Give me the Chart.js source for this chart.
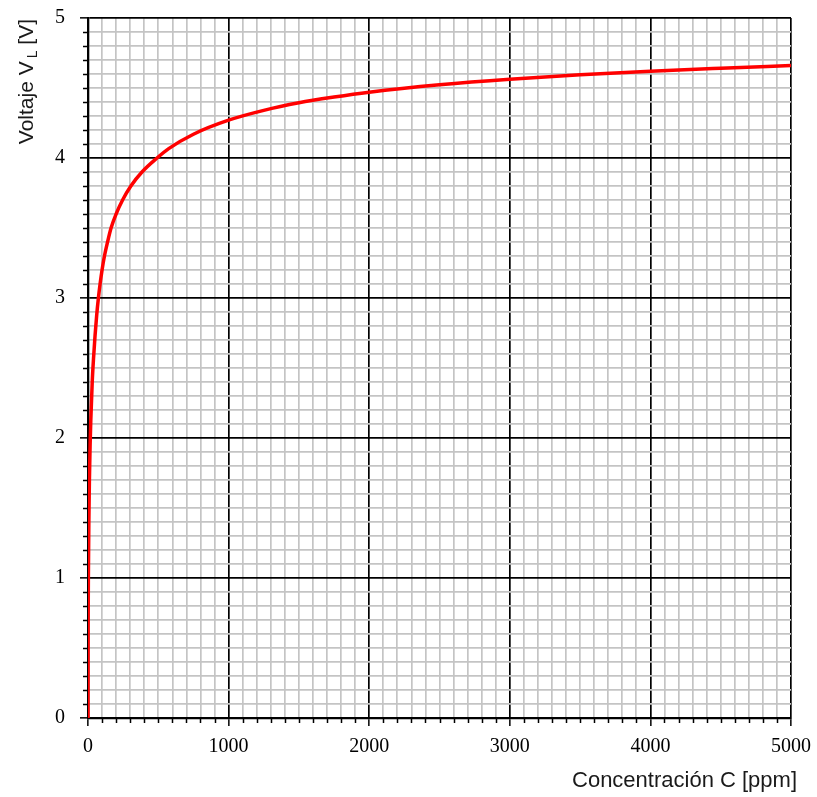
<!DOCTYPE html>
<html>
<head>
<meta charset="utf-8">
<script src="https://cdn.jsdelivr.net/npm/chart.js@4"></script>
<style>
  html, body { margin: 0; padding: 0; background: #fff; }
  #wrap { width: 817px; height: 797px; position: relative; }
</style>
</head>
<body>
<div id="wrap"><canvas id="c" width="817" height="797"></canvas></div>
<script>
// ---- data ----
const concentration = [0, 1, 3, 6, 10, 15, 20, 30, 40, 50, 62, 74, 86, 100, 117, 139, 164, 200, 246, 305, 384, 491, 574, 750, 1000, 1250, 1500, 1750, 2000, 2500, 3000, 3500, 4000, 4500, 5000];
const voltage       = [0, 0.65, 1.05, 1.4, 1.7, 1.95, 2.13, 2.4, 2.58, 2.73, 2.88, 3.0, 3.1, 3.2, 3.3, 3.4, 3.5, 3.6, 3.7, 3.8, 3.9, 4.0, 4.067, 4.17, 4.27, 4.34, 4.394, 4.435, 4.47, 4.523, 4.563, 4.594, 4.62, 4.641, 4.66];
const xRange = [0, 5000];
const yRange = [0, 5];
const xMajorStep = 1000, xMinorStep = 100;
const yMajorStep = 1, yMinorStep = 0.1;
const xTitle = 'Concentración C [ppm]';
const yTitleMain = 'Voltaje V';
const yTitleSub = 'L';
const yTitleEnd = ' [V]';

const points = concentration.map((c, i) => ({ x: c, y: voltage[i] }));

const isMajor = (v, step) => Math.abs(v / step - Math.round(v / step)) < 1e-6;

const minorTicksAndTitles = {
  id: 'minorTicksAndTitles',
  afterDraw(chart) {
    const ctx = chart.ctx;
    const xs = chart.scales.x, ys = chart.scales.y;
    const area = chart.chartArea;
    ctx.save();
    ctx.strokeStyle = '#000';
    ctx.lineWidth = 1.5;
    ctx.beginPath();
    for (let i = 0; i <= Math.round((xRange[1] - xRange[0]) / xMinorStep); i++) {
      const v = xRange[0] + i * xMinorStep;
      if (isMajor(v, xMajorStep)) continue;
      const px = Math.round(xs.getPixelForValue(v)) + 0.5;
      ctx.moveTo(px, area.bottom);
      ctx.lineTo(px, area.bottom + 5);
    }
    for (let i = 0; i <= Math.round((yRange[1] - yRange[0]) / yMinorStep); i++) {
      const v = yRange[0] + i * yMinorStep;
      if (isMajor(v, yMajorStep)) continue;
      const py = Math.round(ys.getPixelForValue(v)) + 0.5;
      ctx.moveTo(area.left, py);
      ctx.lineTo(area.left - 5, py);
    }
    ctx.stroke();

    // x axis title
    ctx.fillStyle = '#1a1a1a';
    ctx.font = '22px "Liberation Sans", Arial, sans-serif';
    ctx.textAlign = 'right';
    ctx.textBaseline = 'alphabetic';
    ctx.fillText(xTitle, area.right + 6, area.bottom + 69);

    // y axis title (rotated, with subscript)
    const mainFont = '21px "Liberation Sans", Arial, sans-serif';
    const subFont = '14px "Liberation Sans", Arial, sans-serif';
    ctx.font = mainFont;
    const w1 = ctx.measureText(yTitleMain).width;
    const w3 = ctx.measureText(yTitleEnd).width;
    ctx.font = subFont;
    const w2 = ctx.measureText(yTitleSub).width;
    const gap = 3;
    const total = w1 + gap + w2 + w3;
    ctx.translate(33, area.top + 1);
    ctx.rotate(-Math.PI / 2);
    ctx.textAlign = 'left';
    let x0 = -total;
    ctx.font = mainFont;
    ctx.fillText(yTitleMain, x0, 0);
    x0 += w1 + gap;
    ctx.font = subFont;
    ctx.fillText(yTitleSub, x0, 4);
    x0 += w2;
    ctx.font = mainFont;
    ctx.fillText(yTitleEnd, x0, 0);
    ctx.restore();
  }
};

new Chart(document.getElementById('c'), {
  type: 'scatter',
  data: {
    datasets: [{
      data: points,
      showLine: true,
      borderColor: '#ff0000',
      borderWidth: 3.5,
      pointRadius: 0,
      cubicInterpolationMode: 'monotone',
      fill: false
    }]
  },
  options: {
    responsive: false,
    animation: false,
    devicePixelRatio: 1,
    layout: { padding: { top: 18, right: 26, left: 0, bottom: 0 } },
    plugins: { legend: { display: false }, tooltip: { enabled: false } },
    scales: {
      x: {
        type: 'linear',
        min: xRange[0], max: xRange[1],
        afterFit: s => { s.height = 79; s.paddingLeft = 0; s.paddingRight = 0; },
        border: { color: '#000', width: 2.3 },
        grid: {
          color: c => isMajor(c.tick.value, xMajorStep) ? '#000' : '#c4c4c4',
          lineWidth: 1.7,
          tickLength: 8,
          tickColor: c => isMajor(c.tick.value, xMajorStep) ? '#000' : 'rgba(0,0,0,0)',
          tickWidth: 1.5
        },
        ticks: {
          stepSize: xMinorStep,
          autoSkip: false,
          maxRotation: 0,
          maxTicksLimit: 200,
          padding: 9,
          color: '#000',
          font: { family: '"Liberation Serif", "Times New Roman", serif', size: 20 },
          callback: v => isMajor(v, xMajorStep) ? String(Math.round(v)) : ''
        }
      },
      y: {
        type: 'linear',
        min: yRange[0], max: yRange[1],
        afterFit: s => { s.width = 88; s.paddingTop = 0; s.paddingBottom = 0; },
        border: { color: '#000', width: 2.3 },
        grid: {
          color: c => isMajor(c.tick.value, yMajorStep) ? '#000' : '#c4c4c4',
          lineWidth: 1.7,
          tickLength: 8,
          tickColor: c => isMajor(c.tick.value, yMajorStep) ? '#000' : 'rgba(0,0,0,0)',
          tickWidth: 1.5
        },
        ticks: {
          stepSize: yMinorStep,
          autoSkip: false,
          maxTicksLimit: 200,
          padding: 15,
          color: '#000',
          font: { family: '"Liberation Serif", "Times New Roman", serif', size: 20 },
          callback: v => isMajor(v, yMajorStep) ? String(Math.round(v)) : ''
        }
      }
    }
  },
  plugins: [minorTicksAndTitles]
});
</script>
</body>
</html>
